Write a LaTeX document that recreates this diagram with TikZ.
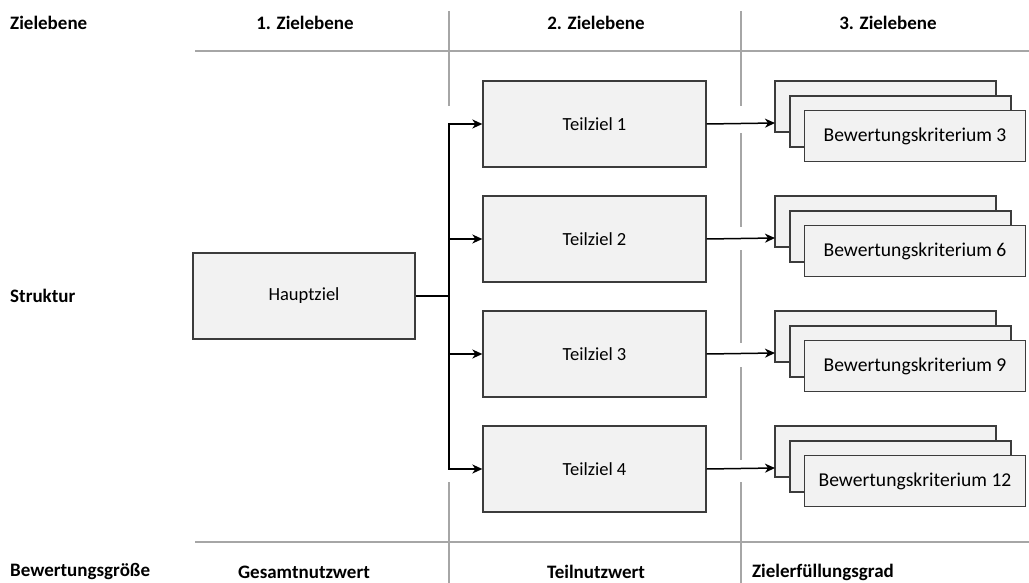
\documentclass[tikz,border=0pt]{standalone}
\usepackage{fontspec}
\setmainfont{Carlito}
\usetikzlibrary{arrows.meta}
\definecolor{boxfill}{HTML}{F2F2F2}
\definecolor{boxline}{HTML}{3C3C3C}
\definecolor{gridline}{HTML}{A6A6A6}
\tikzset{
  goal/.style={draw=boxline, line width=1.3pt, fill=boxfill, inner sep=0pt,
    minimum width=222pt, minimum height=86pt, font=\fontsize{18.5}{22}\selectfont},
  crit/.style={draw=boxline, line width=1.3pt, fill=boxfill, inner sep=0pt,
    minimum width=221pt, minimum height=51pt, font=\fontsize{19.6}{22}\selectfont},
  head/.style={font=\fontsize{19}{22}\selectfont\bfseries, inner sep=0pt},
  grid/.style={draw=gridline, line width=1.3pt},
  conn/.style={draw=black, line width=1.5pt},
  arr/.style={conn, -{Stealth[length=10pt,width=9pt,inset=3pt]}}
}
\begin{document}
\begin{tikzpicture}[x=1pt,y=-1pt]
\useasboundingbox (0,0) rectangle (1029,583);
% grid lines
\draw[grid] (195,51) -- (1029,51);
\draw[grid] (195,542) -- (1029,542);
\draw[grid] (449,11) -- (449,106);
\draw[grid] (449,482) -- (449,583);
\draw[grid] (741,11) -- (741,106);
\draw[grid] (741,133) -- (741,227);
\draw[grid] (741,250) -- (741,343);
\draw[grid] (741,367) -- (741,460);
\draw[grid] (741,482) -- (741,583);
% headers
\node[head, anchor=west] (hz) at (10,23) {Zielebene};
\node[head] (h1) at (305,23) {1. Zielebene};
\node[head] (h2) at (596,23) {2. Zielebene};
\node[head] (h3) at (888,23) {3. Zielebene};
\node[head, anchor=west] (hs) at (10,296) {Struktur};
\node[head, anchor=west] (hb) at (10,572) {Bewertungsgröße};
\node[head] (b1) at (304,572) {Gesamtnutzwert};
\node[head] (b2) at (596,572) {Teilnutzwert};
\node[head] (b3) at (823,572) {Zielerfüllungsgrad};
% main goal
\node[goal] (hz0) at (304,296) {Hauptziel};
\coordinate (j) at (449,296);
\draw[conn, line width=2.4pt] (hz0.east) -- (j);
% sub goals and criteria
\foreach \i/\n in {0/3,1/6,2/9,3/12}{
  \pgfmathsetmacro{\dy}{115*\i}
  \node[goal, minimum width=223pt] (t\i) at (594.5,124+\dy) {Teilziel \the\numexpr\i+1\relax};
  \node[crit] (ca\i) at (885.5,106.5+\dy) {};
  \node[crit] (cb\i) at (900.5,121.5+\dy) {};
  \node[crit] (cc\i) at (915,136+\dy) {Bewertungskriterium \n};
  \coordinate (e\i) at (775,123+\dy);
  \draw[arr] (j) |- (t\i.west);
  \draw[arr] (t\i.east) -- (e\i);
}
\end{tikzpicture}
\end{document}
